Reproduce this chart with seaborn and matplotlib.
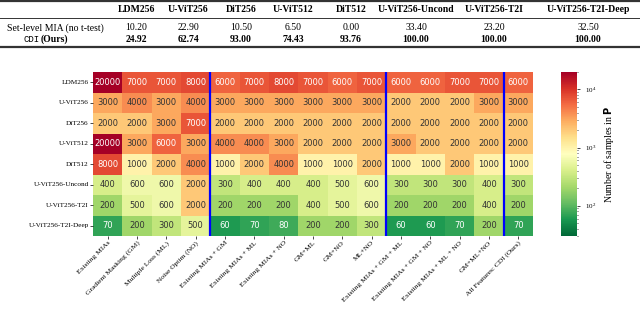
import numpy as np
import pandas as pd
import matplotlib
matplotlib.use("Agg")
import matplotlib.pyplot as plt
from matplotlib.colors import LogNorm
from matplotlib.lines import Line2D
import seaborn as sns

# table on top
models = ["LDM256", "U-ViT256", "DiT256", "U-ViT512", "DiT512",
          "U-ViT256-Uncond", "U-ViT256-T2I", "U-ViT256-T2I-Deep"]
set_level_mia = ["10.20", "22.90", "10.50", "6.50", "0.00", "33.40", "23.20", "32.50"]
cdi_scores = ["24.92", "62.74", "93.00", "74.43", "93.76", "100.00", "100.00", "100.00"]

# heatmap
features = ["Existing MIAs", "Gradient Masking (GM)", "Multiple Loss (ML)", "Noise Optim (NO)",
            "Existing MIAs + GM", "Existing MIAs + ML", "Existing MIAs + NO",
            "GM+ML", "GM+NO", "ML+NO",
            "Existing MIAs + GM + ML", "Existing MIAs + GM + NO", "Existing MIAs + ML + NO",
            "GM+ML+NO", "All Features: CDI (Ours)"]
n_samples = [
    [20000, 7000, 7000, 8000, 6000, 7000, 8000, 7000, 6000, 7000, 6000, 6000, 7000, 7000, 6000],
    [3000, 4000, 3000, 4000, 3000, 3000, 3000, 3000, 3000, 3000, 2000, 2000, 2000, 3000, 3000],
    [2000, 2000, 3000, 7000, 2000, 2000, 2000, 2000, 2000, 2000, 2000, 2000, 2000, 2000, 2000],
    [20000, 3000, 6000, 3000, 4000, 4000, 3000, 2000, 2000, 2000, 3000, 2000, 2000, 2000, 2000],
    [8000, 1000, 2000, 4000, 1000, 2000, 4000, 1000, 1000, 2000, 1000, 1000, 2000, 1000, 1000],
    [400, 600, 600, 2000, 300, 400, 400, 400, 500, 600, 300, 300, 300, 400, 300],
    [200, 500, 600, 2000, 200, 200, 200, 400, 500, 600, 200, 200, 200, 400, 200],
    [70, 200, 300, 500, 60, 70, 80, 200, 200, 300, 60, 60, 70, 200, 70],
]
group_breaks = [4, 10, 14]

df = pd.DataFrame(n_samples, index=models, columns=features)

serif = "Liberation Serif"
fig = plt.figure(figsize=(6.4, 3.17), dpi=100)
W, H = 640, 317

def fy(py):
    return 1 - py / H

# --- table ---
for py, lw in [(1, 1.6), (18, 0.7), (47, 1.6)]:
    fig.add_artist(Line2D([0, 1], [fy(py), fy(py)], color="#333333", lw=lw,
                          transform=fig.transFigure))

col_x = [136, 188, 241, 293, 351, 416, 494, 588]
for x, name in zip(col_x, models):
    fig.text(x / W, fy(10), name, ha="center", va="center", family=serif,
             fontweight="bold", fontsize=7)
fig.text(55 / W, fy(28), "Set-level MIA (no t-test)", ha="center", va="center",
         family=serif, fontsize=7)
fig.text(40 / W, fy(39), "CDI", ha="right", va="center", family="Liberation Mono",
         fontsize=6.5)
fig.text(41 / W, fy(39), "(Ours)", ha="left", va="center", family=serif,
         fontweight="bold", fontsize=7)
for x, a, b in zip(col_x, set_level_mia, cdi_scores):
    fig.text(x / W, fy(28), a, ha="center", va="center", family=serif, fontsize=7)
    fig.text(x / W, fy(39), b, ha="center", va="center", family=serif,
             fontweight="bold", fontsize=7)

# --- heatmap ---
ax = fig.add_axes([93 / W, fy(236), (533 - 93) / W, (236 - 72) / H])
cax = fig.add_axes([561 / W, fy(236), 16 / W, (236 - 72) / H])
sns.heatmap(df, ax=ax, cbar_ax=cax, cmap="RdYlGn_r", norm=LogNorm(vmin=30, vmax=20000),
            annot=True, fmt="d", annot_kws={"fontsize": 6})
# text colour: light on the dark ends of the scale
for t in ax.texts:
    v = int(t.get_text())
    t.set_color("white" if (v >= 5000 or v <= 100) else "#333333")

for b in group_breaks:
    ax.axvline(b, color="blue", lw=1.6)

ax.set_yticklabels(models, family=serif, fontsize=5.2, rotation=0)
ax.set_xticklabels(features, family=serif, fontsize=5.4, rotation=45, ha="right",
                   rotation_mode="anchor")
ax.tick_params(axis="both", length=2, width=0.5, pad=1)
ax.set_xlabel("")
ax.set_ylabel("")

cax.tick_params(which="both", labelsize=5, width=0.5)
cax.tick_params(which="major", length=2)
cax.tick_params(which="minor", length=1)
for t in cax.get_yticklabels():
    t.set_family(serif)
cax.set_ylabel(r"Number of samples in $\mathbf{P}$", family=serif, fontsize=7, labelpad=4)

fig.savefig("out.png", dpi=100)
